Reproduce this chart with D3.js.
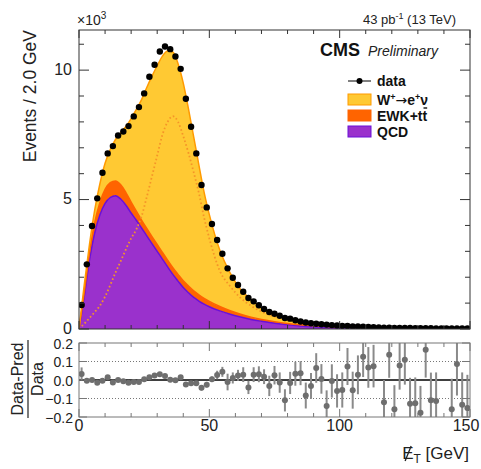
<!DOCTYPE html>
<html>
<head>
<meta charset="utf-8">
<script src="https://cdn.jsdelivr.net/npm/d3@7"></script>
<style>
  body { margin: 0; background: #fff; }
  svg { font-family: "Liberation Sans", Arial, sans-serif; }
</style>
</head>
<body>
<svg id="chart" width="481" height="469"></svg>
<script>
// bin centres (2 GeV bins) and observed events
const binCenter = [1,3,5,7,9,11,13,15,17,19,21,23,25,27,29,31,33,35,37,39,41,43,45,47,49,
  51,53,55,57,59,61,63,65,67,69,71,73,75,77,79,81,83,85,87,89,91,93,95,97,99,
  101,103,105,107,109,111,113,115,117,119,121,123,125,127,129,131,133,135,137,139,141,143,145,147,149];
const dataCounts = [927,2498,3977,5046,6035,6783,7066,7477,7632,7838,8212,8571,9100,9742,10205,10722,10915,10811,10529,10050,8892,7811,6784,5560,4698,
  4054,3436,2907,2342,1981,1699,1440,1197,1069,915,772,656,591,514,425,400,340,290,250,220,205,185,170,150,135,
  120,115,100,95,85,75,70,62,55,52,45,42,40,36,33,30,30,27,25,24,22,20,20,18,17];

// (Data-Pred)/Data and its uncertainty
const ratioVal = [0.033,-0.004,0.0,-0.015,-0.004,0.015,-0.013,0.0,-0.007,-0.015,-0.011,-0.011,0.004,0.015,0.025,0.031,0.022,0.002,-0.002,0.015,-0.024,-0.018,-0.018,-0.042,-0.025,
  0.004,0.027,0.044,-0.011,0.011,0.025,0.029,-0.04,0.029,0.031,0.018,-0.032,0.026,-0.014,-0.11,-0.016,0.034,0.037,-0.084,-0.032,0.065,0.006,-0.141,-0.005,-0.059,
  -0.054,0.073,-0.055,0.028,0.126,0.068,0.075,null,-0.12,0.137,-0.158,0.078,0.11,-0.128,-0.126,-0.177,0.163,-0.11,-0.114,null,null,-0.158,0.086,-0.134,-0.152];
const ratioErr = [0.035,0.012,0.01,0.01,0.01,0.01,0.01,0.01,0.01,0.01,0.01,0.01,0.01,0.01,0.01,0.01,0.01,0.01,0.01,0.01,0.01,0.01,0.012,0.015,0.015,
  0.015,0.023,0.027,0.045,0.03,0.03,0.04,0.036,0.04,0.043,0.04,0.055,0.05,0.055,0.06,0.06,0.065,0.065,0.07,0.07,0.08,0.08,0.085,0.09,0.09,
  0.095,0.1,0.1,0.105,0.11,0.11,0.115,0.12,0.12,0.125,0.13,0.13,0.135,0.14,0.14,0.145,0.15,0.15,0.155,0.16,0.16,0.165,0.17,0.175,0.18];

// prediction, sampled along MET
const mcX = [0,2,4,6,8,10,12,14,16,18,20,22,24,26,28,30,32,34,36,38,40,42,44,46,48,50,54,58,62,66,70,75,80,85,90,100,110,120,135,150];
const qcdVal = [0,1250,2650,3700,4400,4850,5080,5150,5020,4780,4480,4200,3900,3600,3300,3000,2700,2400,2110,1850,1600,1400,1220,1080,960,860,700,570,460,370,300,225,165,120,88,48,26,15,8,4];
const ewkVal = [0,140,280,400,480,540,570,570,550,490,420,350,310,285,270,265,260,260,260,260,260,260,255,240,225,205,170,135,108,88,72,60,50,42,35,26,18,13,9,6];
const wenuVal = [0,310,320,480,720,1010,1280,1600,2010,2550,3230,3930,4650,5445,6200,6905,7580,8080,8330,8140,7640,6840,5945,5010,4095,3355,2180,1455,957,682,448,291,205,118,82,56,34,22,11,5];
const wenuShape = [0,200,420,650,900,1250,1700,2180,2620,3080,3500,3850,4350,5100,5900,6700,7500,8000,8220,8000,7450,6800,6050,5250,4300,3500,2250,1650,1200,900,670,480,360,270,210,140,90,60,35,20];

const xTicks = [0, 50, 100, 150];
const yTicks = [0, 5000, 10000];
const rTicks = [0.2, 0.1, 0.0, -0.1, -0.2];

const svg = d3.select("#chart");
const left = 79, right = 470;
const mainTop = 30, mainBot = 329;
const ratTop = 343, ratBot = 417;

const x = d3.scaleLinear().domain([0, 150]).range([left, right]);
const y = d3.scaleLinear().domain([0, 11550]).range([mainBot, mainTop]);
const yr = d3.scaleLinear().domain([-0.2, 0.2]).range([ratBot, ratTop]);

const colW = "#ffc933", colWLine = "#ff9a00", colEWK = "#ff6400", colQCD = "#9a31cc", colQCDLine = "#6a10d8";

const defs = svg.append("defs");
defs.append("clipPath").attr("id", "clipMain").append("rect")
  .attr("x", left).attr("y", mainTop).attr("width", right - left).attr("height", mainBot - mainTop);
defs.append("clipPath").attr("id", "clipRat").append("rect")
  .attr("x", left).attr("y", ratTop).attr("width", right - left).attr("height", ratBot - ratTop);

// stacked prediction
const mcRows = mcX.map((v, i) => ({ x: v, qcd: qcdVal[i], ewk: ewkVal[i], wenu: wenuVal[i] }));
const stack = d3.stack().keys(["qcd", "ewk", "wenu"])(mcRows);
const area = d3.area().curve(d3.curveMonotoneX)
  .x(d => x(d.data.x)).y0(d => y(d[0])).y1(d => y(d[1]));
const topLine = d3.line().curve(d3.curveMonotoneX)
  .x(d => x(d.data.x)).y(d => y(d[1]));

const gMain = svg.append("g").attr("clip-path", "url(#clipMain)");
const fills = { qcd: colQCD, ewk: colEWK, wenu: colW };
const lines = { qcd: colQCDLine, ewk: colEWK, wenu: colWLine };
stack.slice().reverse().forEach(s => {
  gMain.append("path").datum(s).attr("d", area).attr("fill", fills[s.key]);
});
stack.forEach(s => {
  gMain.append("path").datum(s).attr("d", topLine)
    .attr("fill", "none").attr("stroke", lines[s.key]).attr("stroke-width", 1.5);
});

// W template, dotted
gMain.append("path")
  .datum(mcX.map((v, i) => [v, wenuShape[i]]))
  .attr("d", d3.line().curve(d3.curveMonotoneX).x(d => x(d[0])).y(d => y(d[1])))
  .attr("fill", "none").attr("stroke", "#f59428").attr("stroke-width", 1.8)
  .attr("stroke-dasharray", "1.6,2.4");

// data points
gMain.selectAll("circle.data")
  .data(binCenter.map((v, i) => [v, dataCounts[i]]))
  .enter().append("circle")
  .attr("cx", d => x(d[0])).attr("cy", d => y(d[1])).attr("r", 3.2).attr("fill", "#000");

// frame and ticks, ROOT style (ticks pointing inward)
function frame(top, bot, col) {
  svg.append("rect").attr("x", left).attr("y", top).attr("width", right - left).attr("height", bot - top)
    .attr("fill", "none").attr("stroke", col).attr("stroke-width", 1);
  const g = svg.append("g").attr("stroke", col).attr("stroke-width", 1);
  d3.range(0, 151, 10).forEach(v => {
    const len = v % 50 === 0 ? 8 : 4;
    g.append("line").attr("x1", x(v)).attr("x2", x(v)).attr("y1", bot).attr("y2", bot - len);
    g.append("line").attr("x1", x(v)).attr("x2", x(v)).attr("y1", top).attr("y2", top + len);
  });
  return g;
}
const gFr = frame(mainTop, mainBot, "#333");
d3.range(0, 11001, 1000).forEach(v => {
  const len = v % 5000 === 0 ? 10 : 5;
  gFr.append("line").attr("x1", left).attr("x2", left + len).attr("y1", y(v)).attr("y2", y(v));
  gFr.append("line").attr("x1", right).attr("x2", right - len).attr("y1", y(v)).attr("y2", y(v));
});

svg.append("g").selectAll("text").data(yTicks).enter().append("text")
  .attr("x", left - 7).attr("y", d => y(d) + 4.5).attr("text-anchor", "end")
  .attr("font-size", 16).attr("fill", "#222").text(d => d / 1000);

svg.append("text").attr("x", left - 2).attr("y", 25).attr("font-size", 14).attr("fill", "#222")
  .text("×10").append("tspan").attr("dy", -6).attr("font-size", 10).text("3");

svg.append("text").attr("transform", "translate(36,30) rotate(-90)").attr("text-anchor", "end")
  .attr("font-size", 17.5).attr("fill", "#222").text("Events / 2.0 GeV");

// header
const lumi = svg.append("text").attr("x", 456).attr("y", 24).attr("text-anchor", "end")
  .attr("font-size", 13).attr("fill", "#222");
lumi.append("tspan").text("43 pb");
lumi.append("tspan").attr("dy", -5).attr("font-size", 9).text("-1");
lumi.append("tspan").attr("dy", 5).text("  (13 TeV)");

svg.append("text").attr("x", 320).attr("y", 56).attr("font-size", 18).attr("font-weight", "bold")
  .attr("fill", "#111").text("CMS");
svg.append("text").attr("x", 368).attr("y", 56).attr("font-size", 14).attr("font-style", "italic")
  .attr("fill", "#222").text("Preliminary");

// legend
const lx = 348, lw = 23;
svg.append("line").attr("x1", lx).attr("x2", lx + lw).attr("y1", 81).attr("y2", 81).attr("stroke", "#000");
svg.append("circle").attr("cx", lx + lw / 2).attr("cy", 81).attr("r", 3).attr("fill", "#000");
const legItems = [
  { y: 94, fill: colW, stroke: colWLine },
  { y: 110, fill: colEWK, stroke: colEWK },
  { y: 126, fill: colQCD, stroke: colQCDLine }
];
legItems.forEach(it => {
  svg.append("rect").attr("x", lx).attr("y", it.y).attr("width", lw).attr("height", 11)
    .attr("fill", it.fill).attr("stroke", it.stroke).attr("stroke-width", 1);
});
const legText = svg.append("g").attr("font-size", 14).attr("font-weight", "bold").attr("fill", "#111");
legText.append("text").attr("x", 377).attr("y", 86).text("data");
const wt = legText.append("text").attr("x", 377).attr("y", 105);
wt.append("tspan").text("W");
wt.append("tspan").attr("dy", -5).attr("font-size", 9).text("+");
wt.append("tspan").attr("dy", 5).attr("font-family", "DejaVu Sans").attr("font-weight", "normal").text("\u2192");
wt.append("tspan").text("e");
wt.append("tspan").attr("dy", -5).attr("font-size", 9).text("+");
wt.append("tspan").attr("dy", 5).text("\u03bd");
const et = legText.append("text").attr("x", 377).attr("y", 121).text("EWK+tt");
const etn = et.node();
const barX = etn.getStartPositionOfChar(5).x, barW = etn.getSubStringLength(5, 1);
legText.append("line").attr("x1", barX + 1).attr("x2", barX + barW).attr("y1", 108).attr("y2", 108)
  .attr("stroke", "#111").attr("stroke-width", 1.4);
legText.append("text").attr("x", 377).attr("y", 137).text("QCD");

// ratio panel
const gR = svg.append("g");
[0.1, -0.1].forEach(v => {
  gR.append("line").attr("x1", left).attr("x2", right).attr("y1", yr(v)).attr("y2", yr(v))
    .attr("stroke", "#777").attr("stroke-width", 1).attr("stroke-dasharray", "1,2");
});
gR.append("line").attr("x1", left).attr("x2", right).attr("y1", yr(0)).attr("y2", yr(0))
  .attr("stroke", "#000").attr("stroke-width", 1.5);

const ratioPts = binCenter.map((v, i) => ({ x: v, r: ratioVal[i], e: ratioErr[i] })).filter(d => d.r !== null);
const gRp = svg.append("g").attr("clip-path", "url(#clipRat)");
gRp.selectAll("line.err").data(ratioPts).enter().append("line")
  .attr("x1", d => x(d.x)).attr("x2", d => x(d.x))
  .attr("y1", d => yr(d.r - d.e)).attr("y2", d => yr(d.r + d.e))
  .attr("stroke", "#8a8a8a").attr("stroke-width", 2);
gRp.selectAll("circle").data(ratioPts).enter().append("circle")
  .attr("cx", d => x(d.x)).attr("cy", d => yr(d.r)).attr("r", 3).attr("fill", "#6e6e6e");

const gRf = frame(ratTop, ratBot, "#777");
rTicks.forEach(v => {
  gRf.append("line").attr("x1", left).attr("x2", left + 8).attr("y1", yr(v)).attr("y2", yr(v));
  gRf.append("line").attr("x1", right).attr("x2", right - 8).attr("y1", yr(v)).attr("y2", yr(v));
});
svg.append("g").selectAll("text").data(rTicks).enter().append("text")
  .attr("x", 73).attr("y", d => yr(d) + 5.5).attr("text-anchor", "end")
  .attr("font-size", 14).attr("fill", "#222")
  .text(d => (d < 0 ? "\u2212" : "") + Math.abs(d).toFixed(1));

svg.append("g").selectAll("text").data(xTicks).enter().append("text")
  .attr("x", d => Math.min(x(d), 466)).attr("y", 431).attr("text-anchor", "middle")
  .attr("font-size", 16).attr("fill", "#222").text(d => d);

// ratio label
const rl = svg.append("g").attr("transform", "translate(28,379) rotate(-90)");
rl.append("text").attr("x", 0).attr("y", -5).attr("text-anchor", "middle")
  .attr("font-size", 16).attr("fill", "#222").text("Data-Pred");
rl.append("line").attr("x1", -39).attr("x2", 39).attr("y1", 0).attr("y2", 0)
  .attr("stroke", "#222").attr("stroke-width", 1.2);
rl.append("text").attr("x", 0).attr("y", 15).attr("text-anchor", "middle")
  .attr("font-size", 16).attr("fill", "#222").text("Data");

// x label: missing E_T
const xl = svg.append("text").attr("x", 469).attr("y", 459).attr("text-anchor", "end")
  .attr("font-size", 17).attr("fill", "#222");
xl.append("tspan").text("E");
xl.append("tspan").attr("dy", 4).attr("font-size", 12).text("T");
xl.append("tspan").attr("dy", -4).text(" [GeV]");
const xlBox = xl.node().getBBox();
svg.append("line")
  .attr("x1", xlBox.x + 3).attr("y1", 461)
  .attr("x2", xlBox.x + 9).attr("y2", 446)
  .attr("stroke", "#222").attr("stroke-width", 1.3);
</script>
</body>
</html>
